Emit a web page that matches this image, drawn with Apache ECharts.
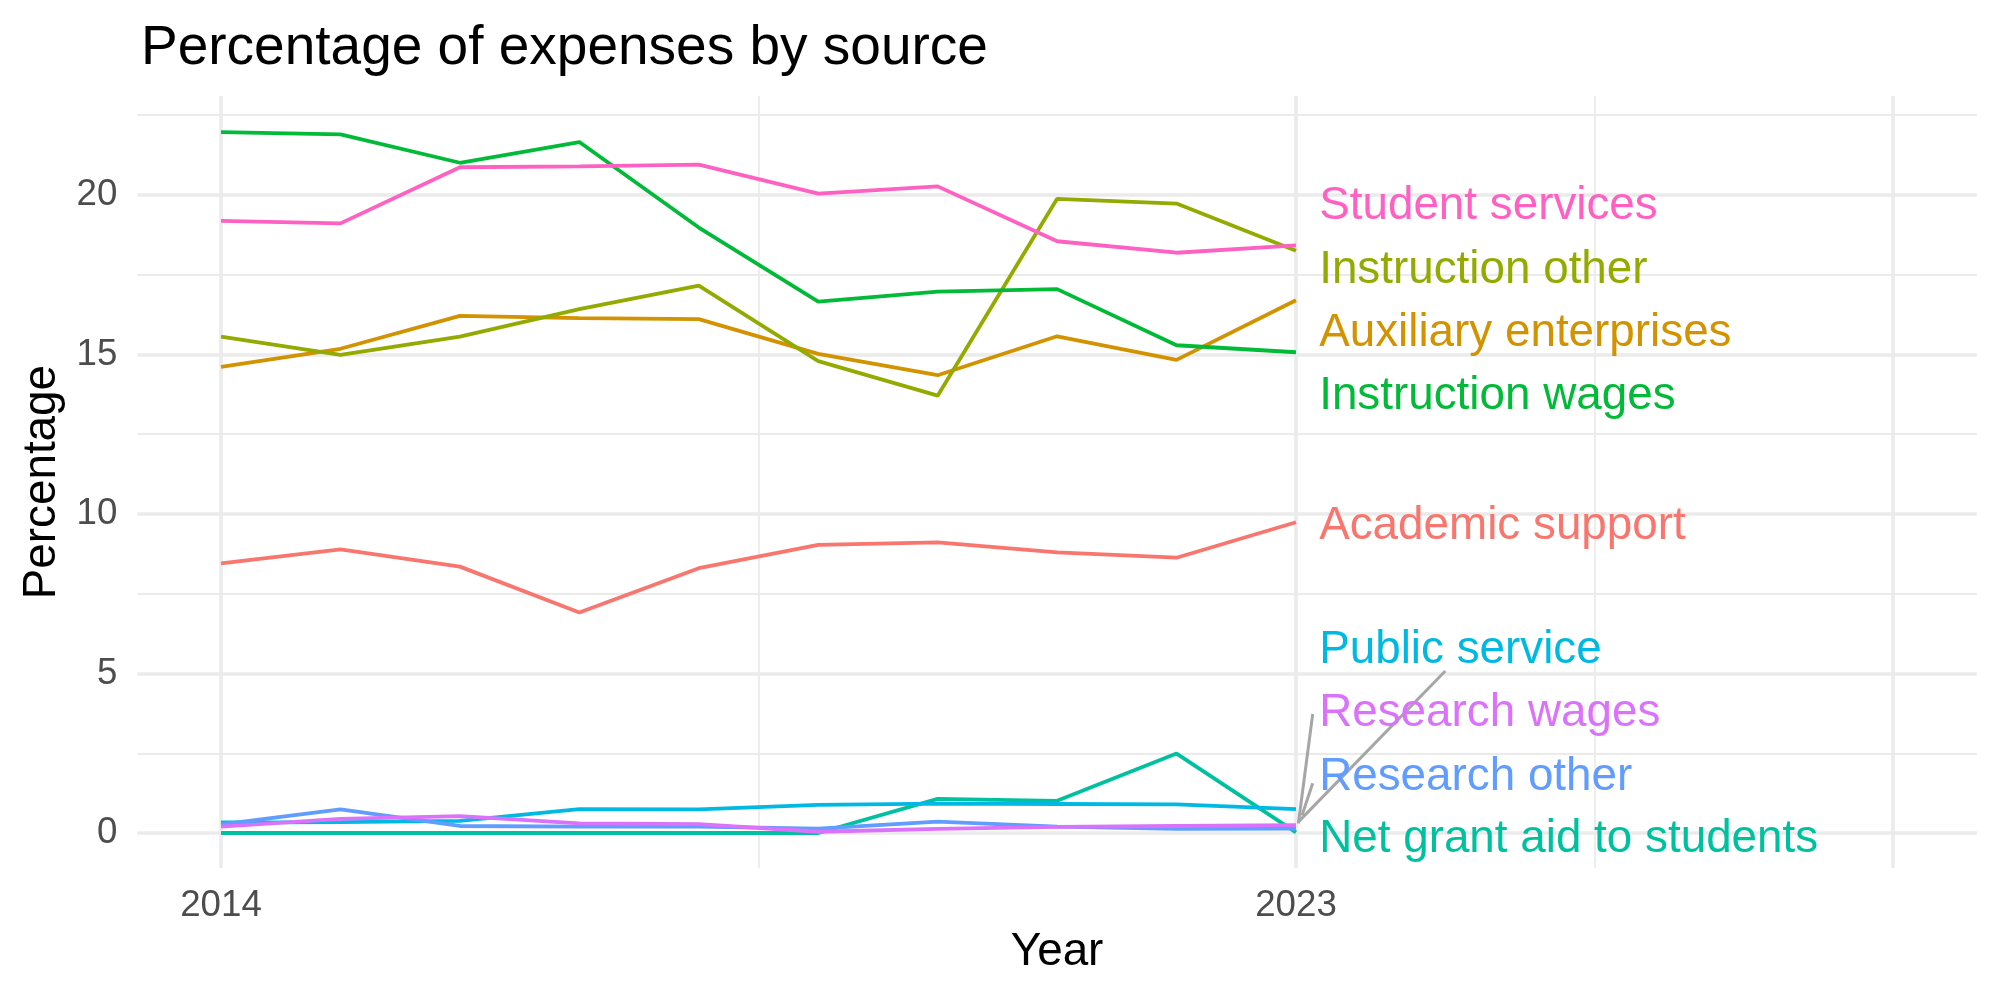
<!DOCTYPE html>
<html><head><meta charset="utf-8">
<script src="https://cdn.jsdelivr.net/npm/echarts@6/dist/echarts.min.js"></script>
<style>html,body{margin:0;padding:0;background:#fff}#chart{width:2000px;height:1000px}</style>
</head><body><div id="chart"></div>
<script>
// ---- data ----
const years = [2014, 2015, 2016, 2017, 2018, 2019, 2020, 2021, 2022, 2023];
const seriesNames = ["Academic support", "Auxiliary enterprises", "Instruction other", "Instruction wages",
  "Net grant aid to students", "Public service", "Research other", "Research wages", "Student services"];
const academicSupport      = [8.45, 8.89, 8.35, 6.91, 8.30, 9.03, 9.11, 8.80, 8.63, 9.74];
const auxiliaryEnterprises = [14.61, 15.18, 16.21, 16.14, 16.11, 15.02, 14.35, 15.57, 14.83, 16.70];
const instructionOther     = [15.56, 14.99, 15.56, 16.42, 17.16, 14.79, 13.71, 19.88, 19.73, 18.25];
const instructionWages     = [21.97, 21.90, 21.01, 21.66, 18.98, 16.66, 16.97, 17.05, 15.29, 15.07];
const netGrantAid          = [0.00, 0.00, 0.00, 0.00, 0.00, 0.00, 1.07, 1.01, 2.49, 0.02];
const publicService        = [0.33, 0.34, 0.38, 0.75, 0.74, 0.88, 0.92, 0.91, 0.90, 0.75];
const researchOther        = [0.27, 0.74, 0.22, 0.20, 0.20, 0.14, 0.36, 0.20, 0.13, 0.14];
const researchWages        = [0.20, 0.44, 0.53, 0.30, 0.28, 0.04, 0.13, 0.19, 0.22, 0.25];
const studentServices      = [19.19, 19.11, 20.87, 20.90, 20.95, 20.04, 20.27, 18.55, 18.19, 18.42];
// repelled label anchor (data units)
const labelX = [2023.19, 2023.19, 2023.19, 2023.19, 2023.19, 2023.19, 2023.19, 2023.19, 2023.19];
const labelY = [9.60, 15.66, 17.63, 13.68, -0.20, 5.71, 1.75, 3.74, 19.63];
// repel segments (data units): [from, to]
const segments = [
  [[2023.02, 0.35], [2024.25, 5.08]],
  [[2023.02, 0.30], [2023.14, 3.73]],
  [[2023.05, 0.55], [2023.14, 1.56]]
];
const xTickLabels = [2014, 2023];
const xMajorBreaks = [2014, 2023, 2028];
const xMinorBreaks = [2018.5, 2025.5];
const yTickLabels = [0, 5, 10, 15, 20];
const yMinorBreaks = [2.5, 7.5, 12.5, 17.5, 22.5];

// ---- styles ----
const colors = ["#F8766D", "#D39200", "#93AA00", "#00BA38", "#00C19F", "#00B9E3", "#619CFF", "#DB72FB", "#FF61C3"];
const values = [academicSupport, auxiliaryEnterprises, instructionOther, instructionWages,
  netGrantAid, publicService, researchOther, researchWages, studentServices];
const FONT = "'Liberation Sans', Arial, Helvetica, sans-serif";
const GRID = "#EBEBEB";

const gridLines = [];
yTickLabels.forEach(v => gridLines.push({ yAxis: v, lineStyle: { width: 3.6, color: GRID, type: 'solid' } }));
yMinorBreaks.forEach(v => gridLines.push({ yAxis: v, lineStyle: { width: 1.8, color: GRID, type: 'solid' } }));
xMajorBreaks.forEach(v => gridLines.push({ xAxis: v, lineStyle: { width: 3.6, color: GRID, type: 'solid' } }));
xMinorBreaks.forEach(v => gridLines.push({ xAxis: v, lineStyle: { width: 1.8, color: GRID, type: 'solid' } }));

const series = [{
  type: 'line', data: [], silent: true, z: 1,
  markLine: { silent: true, z: 1, symbol: ['none', 'none'], label: { show: false },
    lineStyle: { type: 'solid' },
    emphasis: { disabled: true }, animation: false, data: gridLines }
}];
values.forEach((vals, i) => {
  series.push({
    name: seriesNames[i], type: 'line', z: 2, silent: true,
    data: years.map((y, j) => [y, vals[j]]),
    symbol: 'none', lineStyle: { color: colors[i], width: 3.8 }
  });
});
segments.forEach(seg => {
  series.push({ type: 'line', z: 3, silent: true, data: seg, symbol: 'none',
    lineStyle: { color: '#A6A6A6', width: 3 } });
});
seriesNames.forEach((n, i) => {
  series.push({
    type: 'scatter', z: 4, silent: true, symbolSize: 1,
    itemStyle: { color: 'rgba(0,0,0,0)', opacity: 1 },
    data: [[labelX[i], labelY[i]]],
    label: { show: true, position: 'right', distance: 0, formatter: n, opacity: 1,
      color: colors[i], fontSize: 45.8, fontFamily: FONT, textBorderWidth: 0 }
  });
});

const chart = echarts.init(document.getElementById('chart'), null, { renderer: 'canvas' });
chart.setOption({
  animation: false,
  backgroundColor: '#ffffff',
  title: { text: 'Percentage of expenses by source', left: 136, top: 16,
    textStyle: { fontFamily: FONT, fontSize: 55, fontWeight: 'normal', color: '#000' } },
  grid: { left: 137.4, right: 23.2, top: 96.1, bottom: 131.9, containLabel: false },
  xAxis: {
    type: 'value', min: 2013.3, max: 2028.7,
    name: 'Year', nameLocation: 'middle', nameGap: 61,
    nameTextStyle: { fontFamily: FONT, fontSize: 45.8, color: '#000' },
    axisLine: { show: false }, axisTick: { show: false }, splitLine: { show: false },
    axisLabel: { customValues: xTickLabels, margin: 19, fontFamily: FONT, fontSize: 36.7, color: '#4D4D4D',
      formatter: v => String(v) }
  },
  yAxis: {
    type: 'value', min: -1.1, max: 23.1,
    name: 'Percentage', nameLocation: 'middle', nameGap: 69, nameRotate: 90,
    nameTextStyle: { fontFamily: FONT, fontSize: 45.8, color: '#000' },
    axisLine: { show: false }, axisTick: { show: false }, splitLine: { show: false },
    axisLabel: { customValues: yTickLabels, margin: 20, fontFamily: FONT, fontSize: 36.7, color: '#4D4D4D',
      formatter: v => String(v) }
  },
  series: series
});
</script></body></html>
